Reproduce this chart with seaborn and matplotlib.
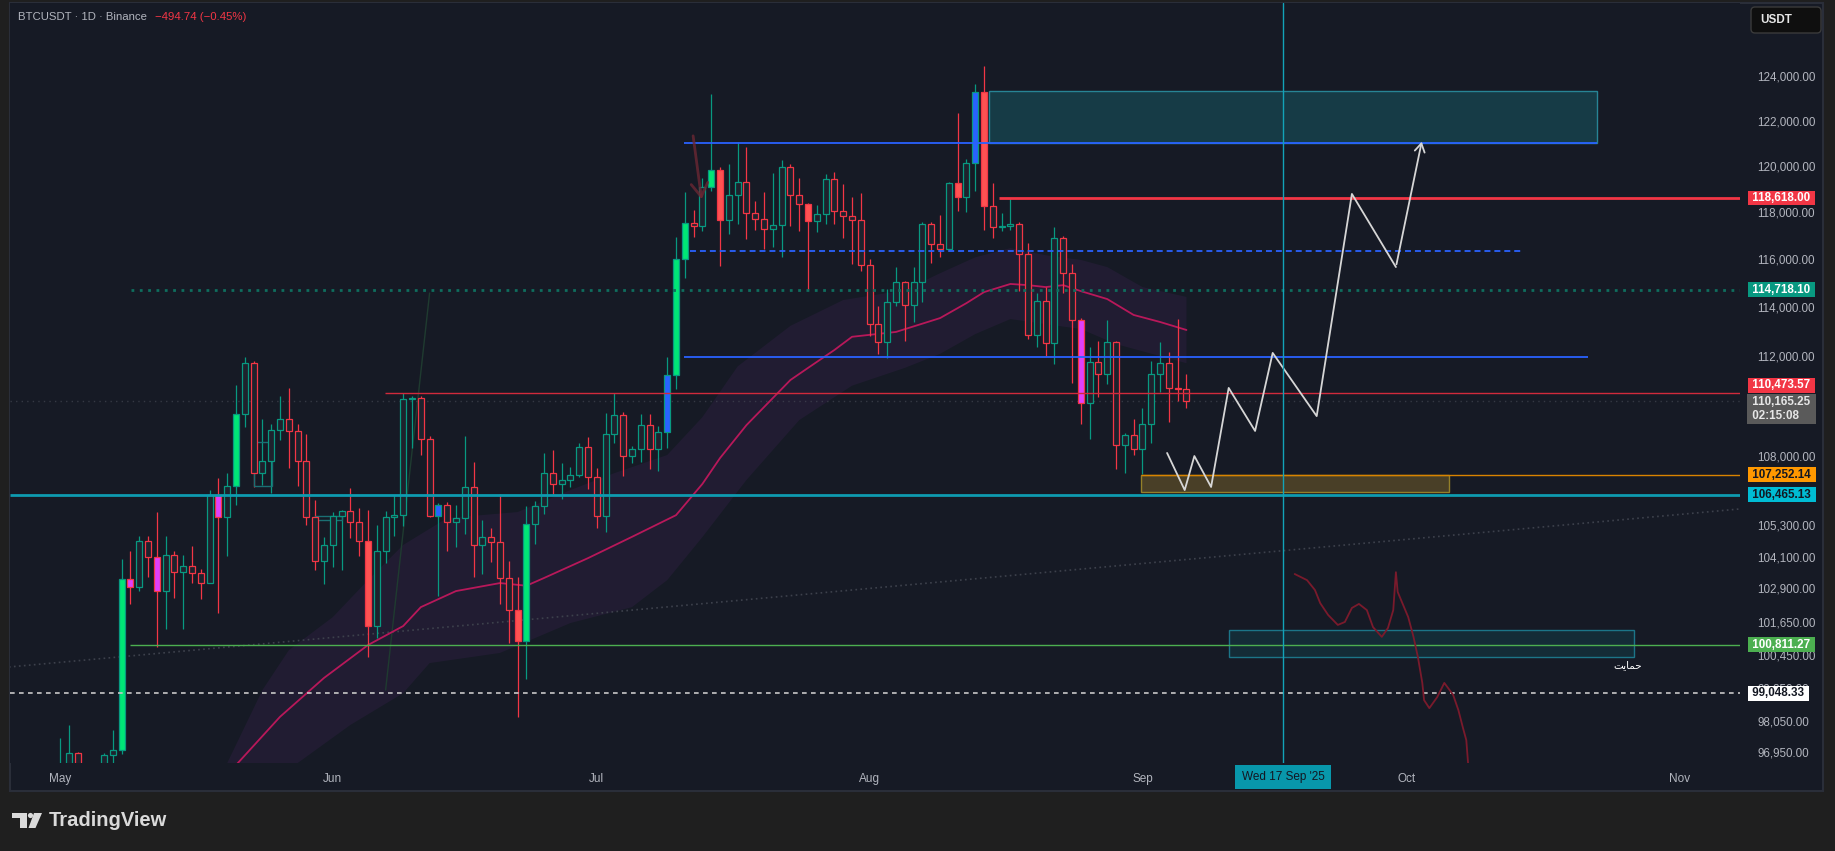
import numpy as np
import pandas as pd
import matplotlib
matplotlib.use("Agg")
import matplotlib.pyplot as plt
import matplotlib.dates as mdates
import matplotlib.transforms as mtransforms
from matplotlib.patches import Rectangle, Polygon, Circle, FancyBboxPatch
from matplotlib.ticker import FixedLocator, FixedFormatter, NullLocator
import seaborn as sns

# ---------------- data ----------------
first_day = "2025-05-01"

opens = [94170, 96490, 96910, 95890, 94320, 94750, 96830, 97030, 103240, 102970,
         104700, 104100, 102800, 104150, 103500, 103760, 103460, 103120, 106450, 105600,
         106800, 109650, 111700, 107300, 107800, 109000, 109450, 108950, 107800, 105600,
         103950, 104550, 105650, 105850, 105400, 104700, 101500, 104300, 105600, 105700,
         110260, 110280, 108650, 105650, 106070, 105400, 105560, 106780, 104550, 104850,
         104640, 103280, 102080, 100950, 105330, 106050, 107330, 106900, 107050, 107250,
         108350, 107150, 105660, 108850, 109600, 108000, 108250, 109200, 108260, 108920,
         111230, 115990, 117520, 117420, 119090, 119840, 117680, 118760, 119290, 117950,
         117700, 117300, 117440, 119950, 118750, 118340, 117640, 117920, 119450, 118060,
         117830, 117650, 115760, 113300, 112550, 114200, 115050, 114100, 115030, 117500,
         116650, 116450, 119250, 118650, 120150, 123300, 118250, 117350, 117420, 117480,
         116200, 112850, 114250, 112500, 116900, 115400, 113450, 110100, 111750, 111250,
         112550, 108400, 108800, 108250, 109250, 111250, 111700, 110700, 110650]
highs = [97440, 97900, 96960, 96300, 95200, 96900, 97730, 104000, 104300, 104870,
         104870, 105820, 104870, 104300, 104150, 104500, 103640, 106660, 107110, 107300,
         110800, 111950, 111800, 109440, 109240, 110370, 110690, 109240, 108850, 106260,
         104850, 105800, 105880, 106720, 105950, 105880, 105300, 105840, 106450, 110480,
         110360, 110360, 108770, 106140, 106180, 106060, 108770, 107740, 105490, 105180,
         106490, 103930, 103320, 106050, 106220, 108100, 108220, 107700, 107540, 108490,
         108730, 107500, 109690, 110480, 109730, 108380, 109650, 109650, 109180, 111950,
         116940, 118860, 118080, 119490, 123200, 119950, 120090, 121040, 120820, 118470,
         118870, 119700, 120270, 120090, 119480, 118400, 118300, 119650, 119740, 119200,
         118660, 118840, 116010, 114050, 114750, 115670, 115090, 115670, 117590, 117590,
         117900, 119300, 122350, 120300, 123640, 124450, 119250, 117950, 118600, 117600,
         116700, 114580, 114830, 117350, 117000, 115800, 113550, 112350, 112600, 113460,
         112600, 108880, 109440, 109870, 111780, 112560, 112150, 113520, 111250]
lows = [94110, 96330, 95760, 94150, 93510, 93380, 95800, 96880, 102300, 102800,
        103320, 100720, 101400, 102530, 101400, 103100, 102500, 103100, 102000, 104120,
        106060, 109120, 106770, 106850, 106540, 108610, 107510, 106810, 105300, 103600,
        103050, 103700, 103600, 104800, 104120, 100370, 101050, 103850, 104900, 105270,
        108300, 108020, 105620, 102610, 104320, 104460, 104940, 103320, 103440, 103890,
        102300, 100880, 98200, 99550, 104580, 105720, 106490, 106300, 106770, 107150,
        106690, 105180, 105040, 108490, 107190, 107700, 107740, 107460, 107380, 108300,
        110650, 115210, 116940, 117200, 118900, 115720, 117060, 117480, 116850, 117250,
        116440, 116520, 116100, 117390, 117180, 114720, 117150, 117500, 117480, 116910,
        115780, 115520, 112810, 112050, 111900, 114040, 112600, 113380, 114210, 115840,
        116100, 116400, 118050, 118000, 118900, 117220, 116900, 117180, 117220, 114650,
        112680, 112350, 111980, 111640, 114580, 110900, 109240, 108650, 110320, 110850,
        107460, 107310, 108020, 107270, 108500, 110520, 109320, 110160, 109880]
closes = [96490, 96910, 95890, 94320, 94750, 96830, 97030, 103240, 102970, 104700,
          104100, 102800, 104150, 103500, 103760, 103460, 103120, 106450, 105600, 106800,
          109650, 111700, 107300, 107800, 109000, 109450, 108950, 107800, 105600, 103950,
          104550, 105650, 105850, 105400, 104700, 101500, 104300, 105600, 105700, 110260,
          110280, 108650, 105650, 106070, 105400, 105560, 106780, 104550, 104850, 104640,
          103280, 102080, 100950, 105330, 106050, 107330, 106900, 107050, 107250, 108350,
          107150, 105660, 108850, 109600, 108000, 108250, 109200, 108260, 108920, 111230,
          115990, 117520, 117420, 119090, 119840, 117680, 118760, 119290, 117950, 117700,
          117300, 117440, 119950, 118750, 118340, 117640, 117920, 119450, 118060, 117830,
          117650, 115760, 113300, 112550, 114200, 115050, 114100, 115030, 117500, 116650,
          116450, 119250, 118650, 120150, 123300, 118250, 117350, 117420, 117480, 116200,
          112850, 114250, 112500, 116900, 115400, 113450, 110100, 111750, 111250, 112550,
          108400, 108800, 108250, 109250, 111250, 111700, 110700, 110650, 110165.25]

# candles painted solid by the indicator
painted = {"2025-05-08": "lime", "2025-05-09": "magenta", "2025-05-12": "magenta",
           "2025-05-19": "magenta", "2025-05-21": "lime", "2025-06-05": "red",
           "2025-06-13": "blue", "2025-06-22": "red", "2025-06-23": "lime",
           "2025-07-09": "blue", "2025-07-10": "lime", "2025-07-11": "lime",
           "2025-07-14": "lime", "2025-07-15": "red", "2025-07-25": "red",
           "2025-08-11": "red", "2025-08-13": "blue", "2025-08-14": "red",
           "2025-08-25": "magenta"}

# moving average and its band (x = days after 1 May)
ma_days = [18, 20, 25, 30, 35, 39, 41, 45, 50, 53, 55, 60, 65, 70, 73, 75, 78, 83, 85,
           88, 90, 95, 100, 103, 105, 108, 110, 112, 114, 116, 119, 122, 125, 128]
ma_values = [95900, 96490, 98200, 99600, 100800, 101500, 102200, 102800, 103100, 103000,
             103290, 104040, 104850, 105680, 106890, 107900, 109200, 111010, 111500,
             112230, 112770, 112970, 113540, 114160, 114620, 114960, 114910, 114830,
             114910, 114660, 114330, 113670, 113380, 113050]
band_top_days = [19, 23, 26, 31, 35, 39, 44, 52, 58, 63, 69, 73, 77, 83, 89, 96, 100,
                 104, 108, 112, 116, 119, 123, 128]
band_top = [96560, 99160, 100610, 101830, 103210, 104540, 105570, 105800, 106650, 107310,
            108020, 109520, 111560, 113220, 114290, 114700, 115410, 116080, 116470,
            116170, 115970, 115670, 114830, 114420]
band_low_days = [27, 33, 39, 42, 50, 58, 65, 69, 73, 78, 84, 90, 96, 100, 104, 108, 112,
                 116, 120, 128]
band_low = [96560, 97910, 99050, 100140, 100510, 101610, 102200, 103210, 104840, 107040,
            109400, 110780, 111500, 112070, 112880, 113500, 113290, 113090, 112470, 111690]

# price scale and time scale
price_ticks = [124000, 122000, 120000, 118000, 116000, 114000, 112000, 108000, 105300,
               104100, 102900, 101650, 100450, 99250, 98050, 96950]
month_labels = ["May", "Jun", "Jul", "Aug", "Sep", "Oct", "Nov"]

# horizontal levels with their price-scale tags
level_prices = [118618.00, 114718.10, 110473.57, 107252.14, 106465.13, 100811.27, 99048.33]
level_from = [106.7, 8.1, 36.9, 122.8, -6, 8.0, -6]
blue_prices = [121000, 116350, 111950]
blue_from = [70.9, 71.6, 70.9]
blue_to = [174.7, 166.0, 173.6]
last_price = 110165.25
countdown = "02:15:08"

# zones: first day, last day, low, high
zone_target = (105.6, 174.7, 121000, 123320)
zone_entry = (122.8, 157.8, 106580, 107252.14)
zone_support = (132.8, 178.8, 100360, 101350)
boxes_small = [(22.0, 24.1, 106820, 108520), (29.0, 32.1, 105490, 105650)]

# hand drawn projections
path_days = [125.8, 127.8, 128.9, 130.8, 132.8, 135.8, 137.8, 142.8, 146.8, 151.8, 154.8]
path_prices = [108100, 106650, 107980, 106770, 110690, 108970, 112110, 109560, 118790,
               115670, 121190]
curve_days = [140.3, 141.7, 142.6, 143.2, 144.1, 145.2, 146.0, 146.8, 147.6, 148.5, 149.2,
              150.2, 150.9, 151.5, 151.8, 152.0, 153.2, 153.8, 154.3, 154.8, 155.0, 155.6,
              156.5, 157.3, 158.3, 158.9, 159.4, 159.8, 160.0]
curve_prices = [103440, 103210, 102840, 102350, 101910, 101540, 101650, 102170, 102320,
                102090, 101460, 101100, 101430, 102090, 103510, 102770, 101830, 101100,
                100360, 99420, 98800, 98510, 98910, 99420, 98990, 98440, 97830, 97370, 96560]
trend_long = ([-5.8, 190.9], [99997, 105920])
trend_steep = ([37.0, 42.0], [99160, 114580])
arrow_mark = ([71.9, 72.95], [121450, 118440])
support_label = "\ufe96\ufbfe\ufe8e\ufee4\ufea3"  # حمایت, shaped for left-to-right drawing
crosshair_day = "2025-09-17"
crosshair_label = "Wed 17 Sep '25"

# ---------------- style ----------------
W, H = 1835, 851
BG = "#161a25"
OUTER = "#1f1f1f"
UP, DOWN = "#089981", "#f23645"
HOLLOW = "#1e222d"
FILLS = {"lime": "#00e676", "magenta": "#e040fb", "blue": "#2962ff", "red": "#ff5252"}
TXT = "#b2b5be"

sns.set_theme(style="dark", rc={"axes.facecolor": BG, "figure.facecolor": OUTER,
                                "axes.grid": False})
plt.rcParams["font.family"] = ["Liberation Sans", "DejaVu Sans"]

fig = plt.figure(figsize=(W / 100, H / 100), dpi=100)
px = mtransforms.IdentityTransform()

# chart panel
fig.add_artist(Rectangle((10, H - 791), 1813, 788, transform=px, facecolor=BG,
                         edgecolor="#2a2e39", lw=1.5, zorder=-1))

ax = fig.add_axes([10 / W, (H - 763) / H, 1730 / W, 760 / H])
ax.set_facecolor(BG)
for s in ax.spines.values():
    s.set_visible(False)

base = pd.Timestamp(first_day)
b0 = mdates.date2num(base)


def at(d):
    return b0 + np.asarray(d, dtype=float)


x_lo, x_hi = at(-5.68), at(190.9)
y_lo, y_hi = 96563, 127340

# band + moving average
poly_x = np.concatenate([at(band_top_days), at(band_low_days)[::-1]])
poly_y = np.concatenate([band_top, band_low[::-1]])
ax.fill(poly_x, poly_y, color="#261d38", alpha=0.7, lw=0, zorder=1)
ma_df = pd.DataFrame({"date": base + pd.to_timedelta(ma_days, unit="D"), "ma": ma_values})
sns.lineplot(data=ma_df, x="date", y="ma", ax=ax, color="#b8185a", lw=1.3, zorder=2)

# faint trend lines
ax.plot(at(trend_long[0]), trend_long[1], color="#3d414c", lw=1.2, ls=(0, (1, 2)), zorder=1)
ax.plot(at(trend_steep[0]), trend_steep[1], color="#1f3b30", lw=1.0, zorder=1)

# candles
days = pd.date_range(first_day, periods=len(opens), freq="D")
xd = mdates.date2num(days)
o, hi, lo, c = (np.array(v, dtype=float) for v in (opens, highs, lows, closes))
edge = np.where(c >= o, UP, DOWN)
face = [FILLS.get(painted.get(d.strftime("%Y-%m-%d"), ""), HOLLOW) for d in days]
ax.vlines(xd, lo, hi, colors=edge, lw=0.9, zorder=3)
body = np.maximum(np.abs(c - o), 25)
ax.bar(xd, body, bottom=np.minimum(o, c), width=0.68, color=face, edgecolor=edge,
       lw=0.9, zorder=4)

# small indicator boxes
for d0, d1, p0, p1 in boxes_small:
    ax.add_patch(Rectangle((at(d0), p0), at(d1) - at(d0), p1 - p0, fill=False,
                           edgecolor="#1b6f73", lw=1, zorder=3))

# zones
for (d0, d1, p0, p1), fc, ec, a in [(zone_target, "#173f4a", "#2a8fa0", 0.9),
                                    (zone_entry, "#4f4428", "#a08a2a", 0.9),
                                    (zone_support, "#142f3a", "#1d7f93", 0.9)]:
    ax.add_patch(Rectangle((at(d0), p0), at(d1) - at(d0), p1 - p0, facecolor=fc,
                           edgecolor=ec, lw=1, alpha=a, zorder=2))

# levels
styles = [dict(color="#f23645", lw=2.0, ls="-"),
          dict(color="#0f6e5e", lw=2.0, ls=(0, (1, 2))),
          dict(color="#d12a3c", lw=1.0, ls="-"),
          dict(color="#d98300", lw=1.0, ls="-"),
          dict(color="#0e9bb0", lw=2.0, ls="-"),
          dict(color="#4caf50", lw=1.0, ls="-"),
          dict(color="#c8c8c8", lw=1.2, ls=(0, (2.8, 2.6)))]
for p, d0, st in zip(level_prices, level_from, styles):
    ax.hlines(p, max(at(d0), x_lo), x_hi, zorder=5, **st)
for p, d0, d1, ls in zip(blue_prices, blue_from, blue_to, ["-", (0, (3.3, 2.2)), "-"]):
    ax.hlines(p, at(d0), at(d1), color="#2962ff", lw=1.3, ls=ls, zorder=5)
ax.axhline(last_price, color="#4a4e59", lw=1, ls=(0, (1, 3)), alpha=0.6, zorder=2)

# projections
ax.plot(at(path_days[:-1]), path_prices[:-1], color="#d6d6d6", lw=1.3, zorder=6)
ax.annotate("", xy=(at(path_days[-1]), path_prices[-1]),
            xytext=(at(path_days[-2]), path_prices[-2]),
            arrowprops=dict(arrowstyle="->,head_length=0.5,head_width=0.3",
                            color="#d6d6d6", lw=1.3), zorder=6)
ax.plot(at(curve_days), curve_prices, color="#7a1a2c", lw=1.3, zorder=6)
ax.annotate("", xy=(at(arrow_mark[0][1]), arrow_mark[1][1]),
            xytext=(at(arrow_mark[0][0]), arrow_mark[1][0]),
            arrowprops=dict(arrowstyle="->,head_length=0.8,head_width=0.5",
                            color="#6b2733", lw=2, alpha=0.8), zorder=6)
ax.text(at(zone_support[1]) - 0.7, 100070, support_label, family=["DejaVu Sans"],
        fontsize=7.5, color="white", ha="center", va="center", zorder=7)

# crosshair
xc = mdates.date2num(pd.Timestamp(crosshair_day))
ax.axvline(xc, color="#12a3b8", lw=1, zorder=6)

ax.set_yscale("log")
ax.set_xlim(x_lo, x_hi)
ax.set_ylim(y_lo, y_hi)
ax.set_xlabel("")
ax.set_ylabel("")

# price scale
ax.yaxis.tick_right()
ax.yaxis.set_major_locator(FixedLocator(price_ticks))
ax.yaxis.set_major_formatter(FixedFormatter([f"{v:,.2f}" for v in price_ticks]))
ax.yaxis.set_minor_locator(NullLocator())
ax.tick_params(axis="y", length=0, pad=12.5, labelsize=8.4, labelcolor=TXT)

months = pd.date_range(first_day, periods=len(month_labels), freq="MS")
ax.xaxis.set_major_locator(FixedLocator(mdates.date2num(months)))
ax.xaxis.set_major_formatter(FixedFormatter(month_labels))
ax.xaxis.set_minor_locator(NullLocator())
ax.tick_params(axis="x", length=0, pad=7, labelsize=8.5, labelcolor=TXT)

# price-scale tags (the 110,473.57 tag is pushed up to clear the live price box)
ytag = mtransforms.blended_transform_factory(ax.transAxes, ax.transData)
tag_colors = [("#f23645", "white"), ("#089981", "white"), ("#f23645", "white"),
              ("#ff9800", "#131722"), ("#00bcd4", "#131722"), ("#4caf50", "white"),
              ("#ffffff", "#131722")]
tag_nudge = [0, 0, 8, 0, 0, 0, 0]
for p, (bc, tc), dy in zip(level_prices, tag_colors, tag_nudge):
    ax.annotate(f" {p:,.2f} ", xy=(1.0, p), xycoords=ytag, xytext=(6.8, dy * 0.72),
                textcoords="offset points", ha="left", va="center", fontsize=8.4,
                fontweight="bold", color=tc, annotation_clip=False, zorder=10,
                bbox=dict(boxstyle="square,pad=0.12", facecolor=bc, edgecolor="none"))
ax.annotate(f" {last_price:,.2f} \n {countdown}", xy=(1.0, last_price), xycoords=ytag,
            xytext=(6.8, -5.8), textcoords="offset points", ha="left", va="center",
            fontsize=8.4, fontweight="bold", color="#e6e6e6", linespacing=1.15,
            annotation_clip=False, zorder=10,
            bbox=dict(boxstyle="square,pad=0.2", facecolor="#5a5a5a", edgecolor="none"))

xtag = mtransforms.blended_transform_factory(ax.transData, ax.transAxes)
ax.text(xc, -14 / 760, crosshair_label, transform=xtag, ha="center", va="center",
        fontsize=8.5, color="#131722", clip_on=False, zorder=10,
        bbox=dict(boxstyle="square,pad=0.55", facecolor="#0897ab", edgecolor="none"))

# header
title = fig.text(18 / W, 1 - 17 / H, "BTCUSDT \u00b7 1D \u00b7 Binance", fontsize=8.2,
                 color=TXT, va="center")
fig.add_artist(plt.Annotation("\u2212494.74 (\u22120.45%)", xy=(1, 0.5), xycoords=title,
                              xytext=(6, 0), textcoords="offset points", va="center",
                              fontsize=8.2, color="#f23645"))

# currency button
fig.add_artist(FancyBboxPatch((1751, H - 33), 70, 26, boxstyle="round,pad=0,rounding_size=4",
                              transform=px, facecolor="#0f0f0f", edgecolor="#3b3b3b",
                              lw=1, zorder=5))
fig.text(1760 / W, 1 - 20 / H, "USDT", fontsize=8.4, fontweight="bold", color="#e6e6e6",
         ha="left", va="center", zorder=6)

# footer logo
logo = "#dadada"
fig.add_artist(Polygon([(12, H - 813), (27, H - 813), (27, H - 828), (19.5, H - 828),
                        (19.5, H - 818), (12, H - 818)], closed=True, transform=px,
                       facecolor=logo, edgecolor="none"))
fig.add_artist(Circle((30.5, H - 815.5), 2.6, transform=px, facecolor=logo,
                      edgecolor="none"))
fig.add_artist(Polygon([(34, H - 813), (42, H - 813), (35.5, H - 828), (28.5, H - 828)],
                       closed=True, transform=px, facecolor=logo, edgecolor="none"))
fig.text(49 / W, 1 - 821 / H, "TradingView", fontsize=14.5, fontweight="bold",
         color=logo, va="center")

fig.savefig("out.png", dpi=100, facecolor=fig.get_facecolor())
